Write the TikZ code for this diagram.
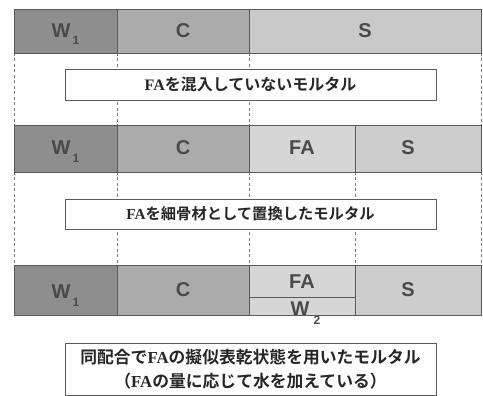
\documentclass[tikz,border=0pt]{standalone}
\usepackage{fontspec}
\setmainfont{Liberation Sans}
\newfontfamily\jp{Noto Sans CJK JP}[BoldFont=* Bold]
\newfontfamily\fas{Liberation Serif}
\definecolor{wcol}{HTML}{8E8E8E}
\definecolor{ccol}{HTML}{ABABAB}
\definecolor{scol}{HTML}{C9C9C9}
\definecolor{facol}{HTML}{D6D6D6}
\definecolor{s2col}{HTML}{CDCDCD}
\definecolor{txt}{HTML}{4A4A4A}
\definecolor{edge}{HTML}{5A5A5A}
\tikzset{
  cell/.style={draw=edge, line width=0.7pt},
  guide/.style={draw=edge!80, line width=0.5pt, dash pattern=on 3pt off 2.5pt},
  lab/.style={text=txt, font=\fontsize{20}{20}\selectfont\bfseries, inner sep=0pt},
  sub/.style={text=txt, font=\fontsize{12}{12}\selectfont\bfseries, inner sep=0pt},
  capbox/.style={draw=edge, fill=white, line width=0.6pt, minimum width=371pt, inner sep=0pt, text=black!85},
}
\begin{document}
\begin{tikzpicture}[x=1pt,y=-1pt]
\useasboundingbox (0,0) rectangle (483,396);
% guide dashed lines (behind)
\foreach \x/\n in {14/a,117/b,249/c,481.5/d}{
  \coordinate (t1\n) at (\x,53); \coordinate (b1\n) at (\x,125);
  \draw[guide] (t1\n) -- (b1\n);
}
\foreach \x/\n in {14/a,117/b,249/c,355/e,481.5/d}{
  \coordinate (t2\n) at (\x,172); \coordinate (b2\n) at (\x,265);
  \draw[guide] (t2\n) -- (b2\n);
}
% row 1
\filldraw[cell, fill=wcol] (14,9) rectangle (117,53);
\filldraw[cell, fill=ccol] (117,9) rectangle (249,53);
\filldraw[cell, fill=scol] (249,9) rectangle (481.5,53);
\node[lab] (w1a) at (61,31) {W};
\node[sub] (w1as) at (76,40) {1};
\node[lab] (c1) at (183,31) {C};
\node[lab] (s1) at (365,31) {S};
% row 2
\filldraw[cell, fill=wcol] (14,125) rectangle (117,172);
\filldraw[cell, fill=ccol] (117,125) rectangle (249,172);
\filldraw[cell, fill=facol] (249,125) rectangle (355,172);
\filldraw[cell, fill=s2col] (355,125) rectangle (481.5,172);
\node[lab] (w1b) at (61,148) {W};
\node[sub] (w1bs) at (76,158) {1};
\node[lab] (c2) at (183,148) {C};
\node[lab] (fa2) at (302,148) {FA};
\node[lab] (s2) at (408,148) {S};
% row 3
\filldraw[cell, fill=wcol] (14,265) rectangle (117,315);
\filldraw[cell, fill=ccol] (117,265) rectangle (249,315);
\filldraw[cell, fill=facol] (249,265) rectangle (355,315);
\draw[cell] (249,297.5) -- (355,297.5);
\filldraw[cell, fill=s2col] (355,265) rectangle (481.5,315);
\node[lab] (w1c) at (61,292) {W};
\node[sub] (w1cs) at (76,302) {1};
\node[lab] (c3) at (183,290) {C};
\node[lab] (fa3) at (302,282) {FA};
\node[lab] (w2) at (300,309) {W};
\node[sub] (w2s) at (317,320) {2};
\node[lab] (s3) at (408,290) {S};
% caption boxes
\node[capbox, minimum height=31pt, font=\fontsize{16}{16}\selectfont] (box1) at (250.5,84.5)
  {\fas\bfseries FA\jp\bfseries を混入していないモルタル};
\node[capbox, minimum height=30pt, font=\fontsize{15.3}{15.3}\selectfont] (box2) at (250.5,214)
  {\fas\bfseries FA\jp\bfseries を細骨材として置換したモルタル};
\node[capbox, minimum height=52pt, align=center, font=\fontsize{16.8}{24}\selectfont] (box3) at (250.5,369)
  {\jp\bfseries 同配合で\fas\bfseries FA\jp\bfseries の擬似表乾状態を用いたモルタル\\
   \jp\bfseries （\fas\bfseries FA\jp\bfseries の量に応じて水を加えている）};
\end{tikzpicture}
\end{document}
